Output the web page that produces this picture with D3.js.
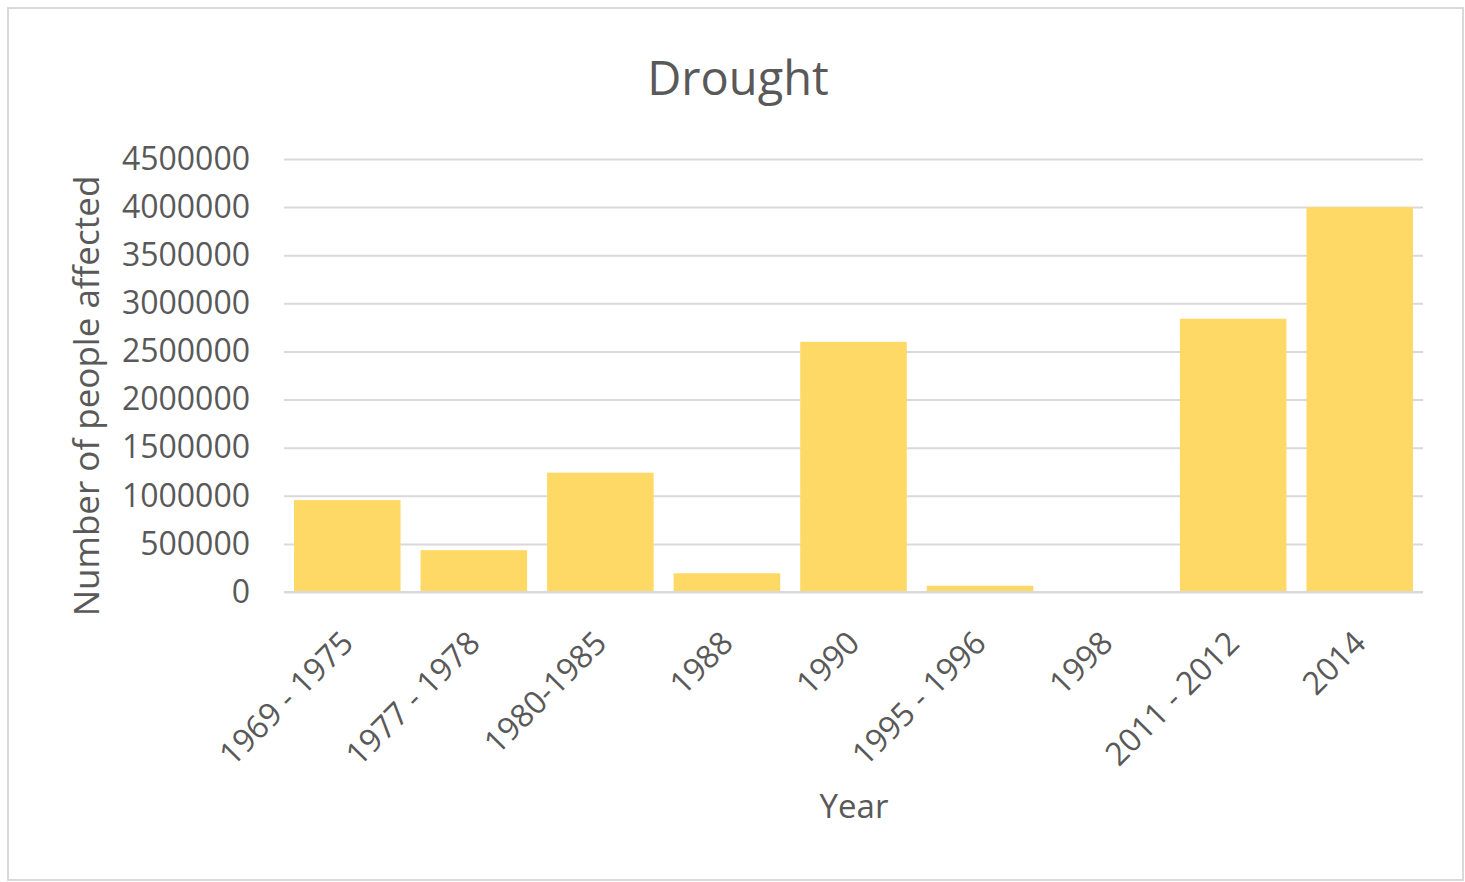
<!DOCTYPE html>
<html>
<head>
<meta charset="utf-8">
<script src="https://cdn.jsdelivr.net/npm/d3@7"></script>
<style>
  html, body { margin: 0; padding: 0; background: #ffffff; }
  svg { display: block; }
  text { font-family: "Open Sans", "Liberation Sans", sans-serif; fill: #595959; }
</style>
</head>
<body>
<svg id="chart" width="1465" height="882"></svg>
<script>
const categories = ["1969 - 1975", "1977 - 1978", "1980-1985", "1988", "1990", "1995 - 1996", "1998", "2011 - 2012", "2014"];
const values = [955000, 435000, 1240000, 195000, 2600000, 65000, 0, 2840000, 4000000];
const yTicks = [0, 500000, 1000000, 1500000, 2000000, 2500000, 3000000, 3500000, 4000000, 4500000];
const chartTitle = "Drought";
const xTitle = "Year";
const yTitle = "Number of people affected";

const svg = d3.select("#chart");
const plot = { left: 284, right: 1423, top: 159, bottom: 592 };
const gridColor = "#d9d9d9";
const barColor = "#FFD966";

// outer border
svg.append("rect")
  .attr("x", 8).attr("y", 8)
  .attr("width", 1455).attr("height", 872)
  .attr("fill", "#fff")
  .attr("stroke", gridColor).attr("stroke-width", 2);

const x = d3.scaleBand()
  .domain(categories)
  .range([plot.left, plot.right])
  .paddingInner(0.158)
  .paddingOuter(0.079);

const y = d3.scaleLinear()
  .domain([0, 4500000])
  .range([plot.bottom, plot.top]);

// gridlines via axis
const yAxis = d3.axisLeft(y)
  .tickValues(yTicks)
  .tickSize(-(plot.right - plot.left))
  .tickPadding(34)
  .tickFormat(d3.format("d"));

const gy = svg.append("g")
  .attr("transform", `translate(${plot.left},0)`)
  .call(yAxis);
gy.select(".domain").remove();
gy.selectAll(".tick line").attr("stroke", gridColor).attr("stroke-width", 2);
gy.selectAll(".tick text")
  .attr("font-size", 32)
  .attr("fill", "#595959")
  .attr("font-family", "\"Open Sans\", sans-serif");

// bars
svg.append("g")
  .selectAll("rect")
  .data(categories.map((c, i) => ({ c, v: values[i] })))
  .join("rect")
  .attr("x", d => x(d.c))
  .attr("width", x.bandwidth())
  .attr("y", d => y(d.v))
  .attr("height", d => y(0) - y(d.v))
  .attr("fill", barColor);

// x axis baseline
const xAxis = d3.axisBottom(x).tickSize(0).tickFormat("");
const gx = svg.append("g")
  .attr("transform", `translate(0,${plot.bottom})`)
  .call(xAxis);
gx.select(".domain").attr("stroke", gridColor).attr("stroke-width", 2)
  .attr("d", `M${plot.left},0H${plot.right}`);

// rotated x labels
svg.append("g")
  .selectAll("text")
  .data(categories)
  .join("text")
  .attr("transform", d => `translate(${x(d) + x.bandwidth() / 2 + 8},645) rotate(-45)`)
  .attr("text-anchor", "end")
  .attr("font-size", 32)
  .text(d => d);

// title
svg.append("text")
  .attr("x", 738).attr("y", 95)
  .attr("text-anchor", "middle")
  .attr("font-size", 47)
  .text(chartTitle);

// x title
svg.append("text")
  .attr("x", 854).attr("y", 818)
  .attr("text-anchor", "middle")
  .attr("font-size", 33)
  .text(xTitle);

// y title
svg.append("text")
  .attr("transform", "translate(99,396) rotate(-90)")
  .attr("text-anchor", "middle")
  .attr("font-size", 35)
  .text(yTitle);
</script>
</body>
</html>
